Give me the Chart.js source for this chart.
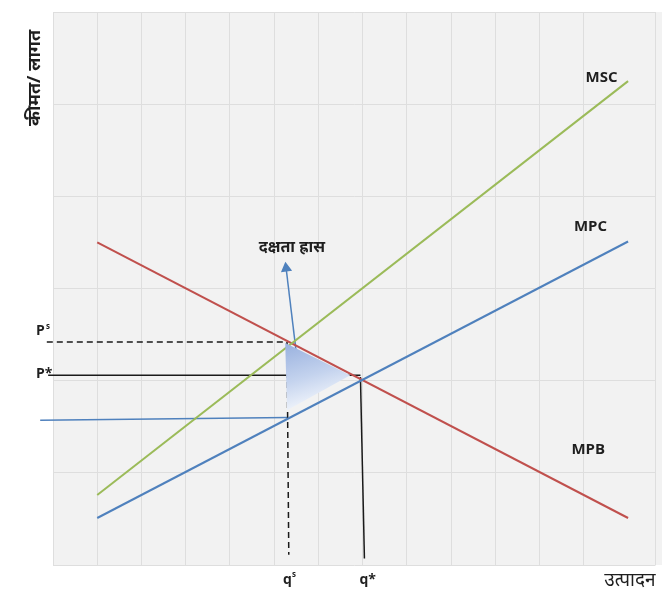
<!DOCTYPE html>
<html>
<head>
<meta charset="utf-8">
<script src="https://cdn.jsdelivr.net/npm/chart.js@4.4.1/dist/chart.umd.min.js"></script>
<style>
  html, body { margin: 0; padding: 0; background: #ffffff; overflow: hidden; }
  #wrap { position: relative; width: 662px; height: 592px; overflow: hidden; }
  canvas { display: block; }
</style>
</head>
<body>
<div id="wrap"><canvas id="chart" width="662" height="592"></canvas></div>
<script>
/* ── DATA ─────────────────────────────────────────────── */
/* Curve end points (quantity on x, price on y) */
const curveX = [1, 13];
const mscY   = [0.76, 5.25];   // marginal social cost
const mpcY   = [0.51, 3.51];   // marginal private cost
const mpbY   = [3.50, 0.51];   // marginal private benefit

/* Key prices and quantities */
const qS = 5.29, qStar = 6.95;
const pS = 2.42, pStar = 2.06, pLow = 1.57;

/* Deadweight loss triangle */
const dwlX = [5.25, 6.72, 5.29, 5.25];
const dwlY = [2.41, 2.06, 1.68, 2.41];

/* Arrow pointing at the label */
const arrowX = [5.52, 5.27];
const arrowY = [2.22, 3.22];

const AXIS_MAX_X = 13.62;
const AXIS_MAX_Y = 6;

const toPts = (xs, ys) => xs.map((x, i) => ({ x, y: ys[i] }));

const GREEN = '#9bbb59', BLUE = '#4f81bd', RED = '#c0504d';
const TXT = '#1f1f1f';

/* ── PLOT BACKGROUND ─────────────────────────────────── */
/* gray panel runs to the right edge of the canvas */
const bgPlugin = {
  id: 'plotBg',
  beforeDraw(chart) {
    const { ctx, chartArea: a, width } = chart;
    ctx.save();
    ctx.fillStyle = '#f2f2f2';
    ctx.fillRect(a.left, a.top, width - a.left, a.bottom - a.top);
    ctx.restore();
  }
};

/* ── TEXT LABELS ─────────────────────────────────────── */
const labelPlugin = {
  id: 'labels',
  afterDraw(chart) {
    const { ctx } = chart;
    const xs = chart.scales.x, ys = chart.scales.y;
    const px = v => xs.getPixelForValue(v);
    const py = v => ys.getPixelForValue(v);
    ctx.save();
    ctx.fillStyle = TXT;
    ctx.textBaseline = 'middle';

    /* curve names */
    ctx.font = 'bold 15px "Open Sans", "Noto Sans", sans-serif';
    ctx.textAlign = 'center';
    ctx.fillText('MSC', px(12.4), py(5.29));
    ctx.fillText('MPC', px(12.15), py(3.67));
    ctx.fillText('MPB', px(12.1), py(1.25));

    /* price labels with superscripts */
    ctx.textAlign = 'left';
    ctx.font = 'bold 14px "Open Sans", "Noto Sans", sans-serif';
    ctx.fillText('P', 36, py(pS) - 11);
    ctx.font = 'bold 8px "Open Sans", "Noto Sans", sans-serif';
    ctx.fillText('s', 46, py(pS) - 15);
    ctx.font = 'bold 14px "Open Sans", "Noto Sans", sans-serif';
    ctx.fillText('P*', 36, py(pStar) - 1);

    /* quantity labels */
    const bottomY = 580;
    ctx.fillText('q', px(qS) - 4, bottomY);
    ctx.font = 'bold 8px "Open Sans", "Noto Sans", sans-serif';
    ctx.fillText('s', px(qS) + 5, bottomY - 5);
    ctx.font = 'bold 14px "Open Sans", "Noto Sans", sans-serif';
    ctx.fillText('q*', px(7.04) - 5, bottomY);

    /* Hindi labels */
    ctx.font = '19px "Noto Sans", sans-serif';
    ctx.textAlign = 'center';
    ctx.fillText('उत्पादन', 630, bottomY + 1);
    ctx.font = 'bold 16px "Noto Sans", sans-serif';
    ctx.fillText('दक्षता ह्रास', px(5.4), py(3.45));

    /* y axis title, rotated */
    ctx.translate(35, 78);
    ctx.rotate(-Math.PI / 2);
    ctx.font = 'bold 18px "Noto Sans", sans-serif';
    ctx.fillText('कीमत/ लागत', 0, 0);
    ctx.restore();
  }
};

/* ── DATASETS ────────────────────────────────────────── */
const line = (data, color, extra) => Object.assign({
  data, borderColor: color, borderWidth: 2, showLine: true,
  pointRadius: 0, fill: false, tension: 0, clip: false
}, extra || {});

const dwlGradient = (context) => {
  const chart = context.chart;
  const { ctx, scales, chartArea } = chart;
  if (!chartArea) return 'rgba(150,175,225,0.8)';
  const x0 = scales.x.getPixelForValue(5.25), y0 = scales.y.getPixelForValue(2.41);
  const x1 = scales.x.getPixelForValue(5.7),  y1 = scales.y.getPixelForValue(1.68);
  if (![x0, y0, x1, y1].every(Number.isFinite)) return 'rgba(150,175,225,0.8)';
  const g = ctx.createLinearGradient(x0, y0, x1, y1);
  g.addColorStop(0, '#98b0de');
  g.addColorStop(0.55, '#c4d3ee');
  g.addColorStop(1, '#f4f7fc');
  return g;
};

const datasets = [
  line(toPts(dwlX, dwlY), 'rgba(0,0,0,0)', { borderWidth: 0, fill: 'shape', backgroundColor: dwlGradient }),
  line(toPts(curveX, mscY), GREEN),
  line(toPts(curveX, mpcY), BLUE),
  line(toPts(curveX, mpbY), RED),
  line(toPts([-0.14, qS - 0.02], [pS, pS]), '#1a1a1a', { borderWidth: 1.5, borderDash: [6, 4] }),
  line(toPts([qS, qS + 0.04], [pS, 0.11]), '#1a1a1a', { borderWidth: 1.5, borderDash: [6, 4] }),
  line(toPts([-0.11, qStar], [pStar, pStar]), '#1a1a1a', { borderWidth: 1.5 }),
  line(toPts([qStar, 7.04], [pStar - 0.02, 0.07]), '#1a1a1a', { borderWidth: 1.5 }),
  line(toPts([-0.29, qS + 0.03], [pLow, pLow + 0.03]), BLUE, { borderWidth: 1.5 }),
  line(toPts(arrowX, arrowY), BLUE, {
    borderWidth: 1.5,
    pointStyle: 'triangle',
    pointRadius: [0, 5],
    pointRotation: -7,
    pointBackgroundColor: BLUE,
    pointBorderColor: BLUE
  })
];

/* ── CHART ───────────────────────────────────────────── */
new Chart(document.getElementById('chart').getContext('2d'), {
  type: 'scatter',
  data: { datasets },
  options: {
    responsive: false,
    animation: false,
    layout: { padding: { left: 53, top: 12, right: 0, bottom: 27 } },
    plugins: { legend: { display: false }, tooltip: { enabled: false } },
    scales: {
      x: {
        type: 'linear', min: 0, max: AXIS_MAX_X,
        ticks: { display: false, stepSize: 1 },
        grid: { color: '#dedede', drawTicks: false },
        border: { display: false },
        afterFit: s => { s.height = 0; s.paddingLeft = 0; s.paddingRight = 0; }
      },
      y: {
        type: 'linear', min: 0, max: AXIS_MAX_Y,
        ticks: { display: false, stepSize: 1 },
        grid: { color: '#dedede', drawTicks: false },
        border: { display: false },
        afterFit: s => { s.width = 0; s.paddingTop = 0; s.paddingBottom = 0; }
      }
    }
  },
  plugins: [bgPlugin, labelPlugin]
});
</script>
</body>
</html>
